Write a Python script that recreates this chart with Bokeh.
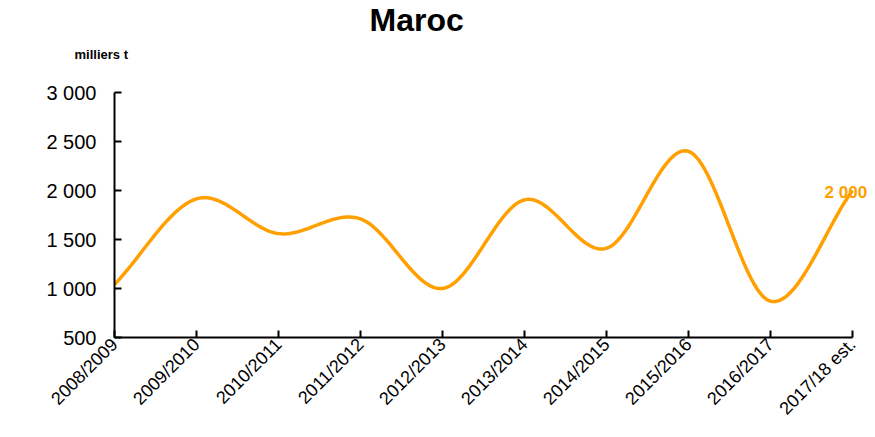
import numpy as np
from bokeh.plotting import figure
from bokeh.models import Range1d, FixedTicker, Label, Title
from bokeh.embed import file_html
from bokeh.resources import INLINE

categories = ["2008/2009", "2009/2010", "2010/2011", "2011/2012", "2012/2013",
              "2013/2014", "2014/2015", "2015/2016", "2016/2017", "2017/18 est."]
values = [1040, 1915, 1560, 1710, 1000, 1905, 1410, 2400, 870, 2000]
y_ticks = [500, 1000, 1500, 2000, 2500, 3000]
y_tick_labels = ["500", "1 000", "1 500", "2 000", "2 500", "3 000"]
title_text = "Maroc"
unit_text = "milliers t"
last_label = "2 000"

FONT = "Liberation Sans"
ORANGE = "#FFA000"

xs = list(range(len(categories)))

# Smoothed (Catmull-Rom) rendering of the line through the data points
def smooth(x, y, n=30):
    x = np.asarray(x, float); y = np.asarray(y, float)
    px = np.concatenate([[2 * x[0] - x[1]], x, [2 * x[-1] - x[-2]]])
    py = np.concatenate([[2 * y[0] - y[1]], y, [2 * y[-1] - y[-2]]])
    ox, oy = [], []
    for i in range(1, len(px) - 2):
        t = np.linspace(0, 1, n, endpoint=(i == len(px) - 3))
        for P, out in ((px, ox), (py, oy)):
            p0, p1, p2, p3 = P[i - 1], P[i], P[i + 1], P[i + 2]
            out.extend(0.5 * ((2 * p1) + (-p0 + p2) * t + (2 * p0 - 5 * p1 + 4 * p2 - p3) * t ** 2
                              + (-p0 + 3 * p1 - 3 * p2 + p3) * t ** 3))
    return ox, oy

sx, sy = smooth(xs, values)

n = len(categories)
p = figure(width=867, height=429, output_backend="svg", toolbar_location=None,
           x_range=Range1d(0, (n - 1) * 753 / 738), y_range=Range1d(500, 3000),
           min_border_left=114, min_border_right=0, min_border_top=92, min_border_bottom=92)
p.outline_line_color = None
p.xgrid.visible = False
p.ygrid.visible = False

p.title.text = title_text
p.title.text_font = FONT
p.title.text_font_size = "32px"
p.title.text_font_style = "bold"
p.title.text_color = "black"
p.title.align = "left"
p.title.offset = 255
p.title.standoff = -48

p.add_layout(Title(text=unit_text, text_font=FONT, text_font_size="13px", text_font_style="bold",
                   text_color="black", align="left", offset=-40, standoff=62), "above")

p.line(sx, sy, line_color=ORANGE, line_width=3.5)

for ax in (p.xaxis[0], p.yaxis[0]):
    ax.axis_line_width = 2
    ax.axis_line_color = "black"
    ax.major_tick_line_width = 2
    ax.major_tick_line_color = "black"
    ax.major_tick_in = 7
    ax.major_tick_out = 0
    ax.minor_tick_line_color = None
    ax.major_label_text_font = FONT
    ax.major_label_text_color = "black"

p.yaxis[0].ticker = FixedTicker(ticks=y_ticks)
p.yaxis[0].major_label_overrides = {t: l for t, l in zip(y_ticks, y_tick_labels)}
p.yaxis[0].major_label_standoff = 18
p.yaxis[0].major_label_text_font_size = "20px"

p.xaxis[0].ticker = FixedTicker(ticks=xs)
p.xaxis[0].bounds = (0, n - 1)
p.xaxis[0].major_label_overrides = {i: c for i, c in zip(xs, categories)}
p.xaxis[0].major_label_orientation = np.pi / 4
p.xaxis[0].major_label_standoff = 4
p.xaxis[0].major_label_text_font_size = "18px"

p.add_layout(Label(x=8.66, y=1975, text=last_label, text_font=FONT, text_font_size="17px",
                   text_font_style="bold", text_align="left", text_baseline="middle",
                   text_color=ORANGE))

open("out.html", "w").write(file_html(p, INLINE))
